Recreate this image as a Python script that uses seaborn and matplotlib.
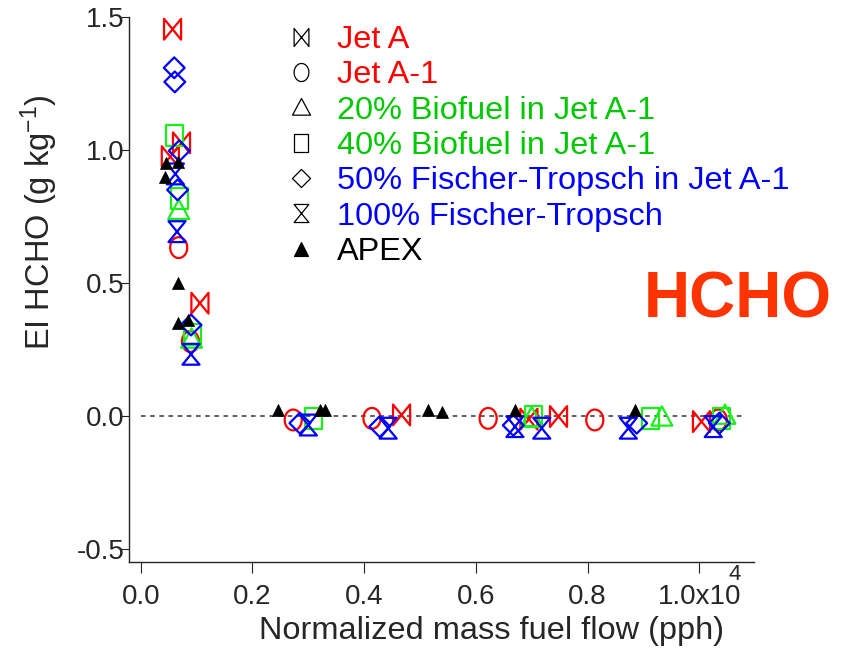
import numpy as np
import matplotlib
matplotlib.use("Agg")
import matplotlib.pyplot as plt
from matplotlib.path import Path
from matplotlib.lines import Line2D
import seaborn as sns

# Normalized mass fuel flow in units of 10^4 pph, EI HCHO in g/kg
jet_a_x = [0.057, 0.073, 0.053, 0.106, 0.467, 0.695, 0.748, 1.004]
jet_a_y = [1.454, 1.027, 0.975, 0.424, 0.004, -0.012, -0.002, -0.021]

jet_a1_x = [0.068, 0.089, 0.273, 0.414, 0.622, 0.813, 1.034]
jet_a1_y = [0.633, 0.280, -0.015, -0.009, -0.009, -0.015, -0.015]

bio20_x = [0.068, 0.091, 0.700, 0.933, 1.046]
bio20_y = [0.774, 0.290, -0.005, -0.003, 0.004]

bio40_x = [0.061, 0.070, 0.092, 0.309, 0.703, 0.912, 1.040]
bio40_y = [1.056, 0.818, 0.305, -0.009, -0.002, -0.009, -0.008]

ft50_x = [0.060, 0.061, 0.069, 0.066, 0.090, 0.285, 0.428, 0.667, 0.888, 1.036]
ft50_y = [1.309, 1.256, 0.997, 0.850, 0.342, -0.027, -0.040, -0.035, -0.027, -0.027]

ft100_x = [0.062, 0.065, 0.090, 0.300, 0.443, 0.670, 0.718, 0.873, 1.025]
ft100_y = [0.910, 0.693, 0.232, -0.034, -0.046, -0.040, -0.046, -0.046, -0.040]

apex_x = [0.046, 0.066, 0.044, 0.067, 0.067, 0.085, 0.246, 0.321, 0.330,
          0.515, 0.540, 0.670, 0.885]
apex_y = [0.950, 0.956, 0.900, 0.499, 0.348, 0.361, 0.023, 0.023, 0.023,
          0.023, 0.016, 0.023, 0.023]

labels = ["Jet A", "Jet A-1", "20% Biofuel in Jet A-1", "40% Biofuel in Jet A-1",
          "50% Fischer-Tropsch in Jet A-1", "100% Fischer-Tropsch", "APEX"]
x_ticks = [0.0, 0.2, 0.4, 0.6, 0.8, 1.0]
x_ticklabels = ["0.0", "0.2", "0.4", "0.6", "0.8", "1.0x10"]
y_ticks = [-0.5, 0.0, 0.5, 1.0, 1.5]
y_ticklabels = ["-0.5", "0.0", "0.5", "1.0", "1.5"]

RED = "#FF0000"
GREEN_MK = "#19F019"
GREEN_TX = "#00C800"
BLUE = "#0000FF"

# Marker shapes (slightly taller than wide)
w = 0.82
bowtie = Path([(-w, -1), (w, 1), (w, -1), (-w, 1), (-w, -1)],
              [Path.MOVETO, Path.LINETO, Path.LINETO, Path.LINETO, Path.CLOSEPOLY])
hourglass = Path([(-w, 1), (w, 1), (-w, -1), (w, -1), (-w, 1)],
                 [Path.MOVETO, Path.LINETO, Path.LINETO, Path.LINETO, Path.CLOSEPOLY])
t = np.linspace(0, 2 * np.pi, 61)
ellipse = Path(np.column_stack([w * np.cos(t), np.sin(t)]), closed=True)
triangle = Path([(0, 1), (-1, -0.85), (1, -0.85), (0, 1)],
                [Path.MOVETO, Path.LINETO, Path.LINETO, Path.CLOSEPOLY])
square = Path([(-w, -1), (w, -1), (w, 1), (-w, 1), (-w, -1)],
              [Path.MOVETO, Path.LINETO, Path.LINETO, Path.LINETO, Path.CLOSEPOLY])
diamond = Path([(0, 1), (1, 0), (0, -1), (-1, 0), (0, 1)],
               [Path.MOVETO, Path.LINETO, Path.LINETO, Path.LINETO, Path.CLOSEPOLY])
apex_tri = Path([(0, 1), (-1, -1), (1, -1), (0, 1)],
                [Path.MOVETO, Path.LINETO, Path.LINETO, Path.CLOSEPOLY])

sns.set_theme(style="ticks")
plt.rcParams["font.family"] = ["Liberation Sans", "DejaVu Sans"]
plt.rcParams["mathtext.fontset"] = "custom"
plt.rcParams["mathtext.rm"] = "Liberation Sans"
plt.rcParams["mathtext.it"] = "Liberation Sans:italic"

fig = plt.figure(figsize=(8.45, 6.56), dpi=100)
ax = fig.add_axes([129 / 845, 94 / 656, 625 / 845, 545 / 656])

# zero reference line
ax.plot([0.0, 1.083], [0.0, 0.0], ls=(0, (3, 3)), color="#333333", lw=1.1, zorder=1)

series = [
    (jet_a_x, jet_a_y, bowtie, RED),
    (jet_a1_x, jet_a1_y, ellipse, RED),
    (bio20_x, bio20_y, triangle, GREEN_MK),
    (bio40_x, bio40_y, square, GREEN_MK),
    (ft50_x, ft50_y, diamond, BLUE),
    (ft100_x, ft100_y, hourglass, BLUE),
]
for xs, ys, mk, col in series:
    sns.scatterplot(x=xs, y=ys, ax=ax, marker=mk, s=225, color=col,
                    facecolor="none", edgecolor=col, linewidth=1.6, zorder=3)
sns.scatterplot(x=apex_x, y=apex_y, ax=ax, marker=apex_tri, s=75, color="black",
                edgecolor="black", linewidth=0.5, zorder=4)

ax.set_xlim(-0.021, 1.098)
ax.set_ylim(-0.549, 1.5)
sns.despine(ax=ax)
for side in ("left", "bottom"):
    ax.spines[side].set_color("#222222")
    ax.spines[side].set_linewidth(1.0)

ax.set_xticks(x_ticks)
ax.set_xticklabels(x_ticklabels, fontsize=20)
ax.set_yticks(y_ticks)
ax.set_yticklabels(y_ticklabels, fontsize=20)
ax.tick_params(axis="x", direction="out", length=8, width=0.8, pad=8, color="#222222")
ax.tick_params(axis="y", direction="out", length=6, width=0.8, pad=-3, color="#222222")
ax.grid(False)

# exponent of the last x tick label
fig.text(735 / 845, 1 - 575 / 656, "4", fontsize=16, ha="center", va="center")

ax.set_xlabel("Normalized mass fuel flow (pph)", fontsize=23.4)
ax.xaxis.set_label_coords((492 - 129) / 625, -0.100)
ax.set_ylabel("EI HCHO (g kg$^{-1}$)", fontsize=23.5)
ax.yaxis.set_label_coords((60 - 129) / 625, 0.624)

fig.text(738 / 845, 1 - 301 / 656, "HCHO", fontsize=46, fontweight="bold",
         color="#FF3300", ha="center", va="center")

legend_markers = [bowtie, ellipse, triangle, square, diamond, hourglass, apex_tri]
text_colors = [RED, RED, GREEN_TX, GREEN_TX, BLUE, BLUE, "black"]
handles = []
for mk in legend_markers:
    filled = mk is apex_tri
    handles.append(Line2D([], [], ls="none", marker=mk, color="black",
                          markerfacecolor="black" if filled else "none",
                          markersize=13 if not filled else 10, markeredgewidth=0.9))
fs_leg = 23.4
leg = ax.legend(handles, labels, loc="upper left",
                bbox_to_anchor=(286 / 845, 1 - 25 / 656), bbox_transform=fig.transFigure,
                frameon=False, fontsize=fs_leg, handlelength=0.9, handletextpad=0.68,
                labelspacing=0.165, borderpad=0, borderaxespad=0)
for txt, c in zip(leg.get_texts(), text_colors):
    txt.set_color(c)

fig.savefig("out.png", dpi=100)
